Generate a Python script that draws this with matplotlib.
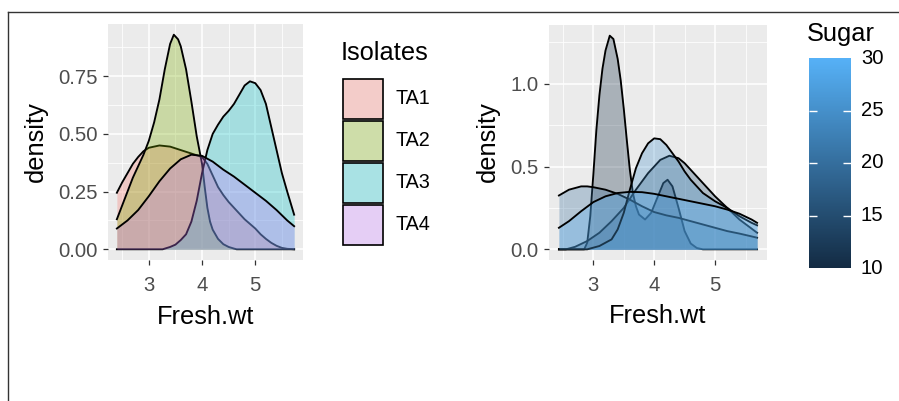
import matplotlib
matplotlib.use("Agg")
import matplotlib.pyplot as plt
import numpy as np
from matplotlib.colors import LinearSegmentedColormap, Normalize, to_rgba
from matplotlib.patches import Rectangle
from matplotlib.lines import Line2D
import matplotlib.colorbar as mcolorbar

plt.rcParams['font.family'] = ['Liberation Sans', 'DejaVu Sans']

# ---------------- data ----------------
isolates = ["TA1", "TA2", "TA3", "TA4"]
isolate_colors = ["#F8766D", "#7CAE00", "#00BFC4", "#C77CFF"]

ta1_x = [2.40, 2.5, 2.6, 2.7, 2.8, 2.9, 3.0, 3.2, 3.4, 3.6, 3.8, 4.0, 4.1, 4.2, 4.3, 4.4,
         4.5, 4.6, 4.7, 4.8, 4.9, 5.0, 5.1, 5.2, 5.3, 5.4, 5.5, 5.6, 5.73]
ta1_y = [0.245, 0.29, 0.33, 0.37, 0.40, 0.425, 0.44, 0.45, 0.445, 0.43, 0.415, 0.40, 0.37,
         0.32, 0.27, 0.235, 0.205, 0.18, 0.155, 0.13, 0.11, 0.09, 0.065, 0.045, 0.028, 0.015,
         0.006, 0.002, 0.0]

ta2_x = [2.4, 2.5, 2.6, 2.7, 2.8, 2.9, 3.0, 3.1, 3.2, 3.3, 3.4, 3.47, 3.55, 3.6, 3.7, 3.8,
         3.9, 4.0, 4.05, 4.1, 4.15, 4.2, 4.3, 4.4, 4.5, 4.6, 4.65, 5.73]
ta2_y = [0.13, 0.19, 0.25, 0.31, 0.36, 0.41, 0.47, 0.55, 0.65, 0.78, 0.89, 0.93, 0.91, 0.88,
         0.78, 0.64, 0.49, 0.37, 0.27, 0.18, 0.12, 0.085, 0.045, 0.022, 0.01, 0.003, 0.0, 0.0]

ta3_x = [2.4, 3.26, 3.4, 3.5, 3.6, 3.7, 3.8, 3.9, 4.0, 4.1, 4.2, 4.3, 4.4, 4.5, 4.6, 4.7,
         4.8, 4.9, 5.0, 5.1, 5.2, 5.3, 5.4, 5.5, 5.6, 5.73]
ta3_y = [0.0, 0.0, 0.01, 0.02, 0.04, 0.065, 0.12, 0.21, 0.33, 0.43, 0.50, 0.54, 0.575, 0.60,
         0.63, 0.67, 0.71, 0.728, 0.72, 0.69, 0.63, 0.53, 0.43, 0.33, 0.25, 0.15]

ta4_x = [2.4, 2.6, 2.8, 3.0, 3.2, 3.4, 3.6, 3.8, 4.0, 4.2, 4.4, 4.6, 4.8, 5.0, 5.2, 5.4, 5.6, 5.73]
ta4_y = [0.09, 0.125, 0.17, 0.23, 0.295, 0.35, 0.39, 0.41, 0.405, 0.38, 0.345, 0.315, 0.28,
         0.245, 0.21, 0.17, 0.125, 0.10]

# right panel: one density per Sugar level
sugar_levels = [10, 15, 20, 25, 30]

s10_x = [2.435, 2.85, 2.9, 2.95, 3.0, 3.05, 3.1, 3.15, 3.2, 3.27, 3.33, 3.4, 3.45, 3.5, 3.55,
         3.6, 3.65, 3.7, 3.75, 3.85, 3.95, 4.05, 4.15, 4.22, 4.3, 4.4, 4.5, 4.6, 4.7, 4.8, 5.69]
s10_y = [0.0, 0.0, 0.04, 0.2, 0.45, 0.72, 0.93, 1.09, 1.2, 1.29, 1.27, 1.15, 1.02, 0.85, 0.66,
         0.48, 0.34, 0.26, 0.21, 0.18, 0.22, 0.31, 0.40, 0.42, 0.38, 0.25, 0.11, 0.035, 0.008,
         0.0, 0.0]

s15_x = [2.435, 2.55, 2.7, 2.9, 3.1, 3.3, 3.5, 3.7, 3.9, 4.1, 4.25, 4.4, 4.5, 4.6, 4.8, 5.0,
         5.2, 5.4, 5.6, 5.69]
s15_y = [0.0, 0.0, 0.015, 0.05, 0.10, 0.17, 0.25, 0.36, 0.46, 0.54, 0.565, 0.55, 0.52, 0.48,
         0.40, 0.32, 0.25, 0.18, 0.125, 0.10]

s20_x = [2.435, 2.6, 2.8, 2.9, 3.0, 3.2, 3.4, 3.6, 3.8, 4.0, 4.2, 4.4, 4.6, 4.8, 5.0, 5.2,
         5.4, 5.6, 5.69]
s20_y = [0.325, 0.36, 0.38, 0.38, 0.375, 0.36, 0.335, 0.30, 0.26, 0.225, 0.205, 0.19, 0.17,
         0.15, 0.13, 0.11, 0.095, 0.078, 0.07]

s25_x = [2.435, 2.9, 3.1, 3.3, 3.4, 3.5, 3.6, 3.7, 3.8, 3.9, 4.0, 4.1, 4.2, 4.3, 4.4, 4.5,
         4.6, 4.8, 5.0, 5.2, 5.4, 5.6, 5.69]
s25_y = [0.0, 0.0, 0.02, 0.06, 0.12, 0.22, 0.36, 0.49, 0.58, 0.64, 0.67, 0.665, 0.63, 0.58,
         0.53, 0.47, 0.42, 0.34, 0.29, 0.25, 0.20, 0.16, 0.145]

s30_x = [2.435, 2.6, 2.8, 3.0, 3.2, 3.4, 3.6, 3.8, 4.0, 4.2, 4.4, 4.6, 4.8, 5.0, 5.2, 5.4,
         5.6, 5.69]
s30_y = [0.13, 0.17, 0.23, 0.285, 0.32, 0.34, 0.347, 0.345, 0.335, 0.32, 0.305, 0.29, 0.275,
         0.26, 0.24, 0.215, 0.18, 0.16]

left_ticks_x = [3, 4, 5]
left_ticks_y = [0.0, 0.25, 0.50, 0.75]
left_tick_labels_y = ["0.00", "0.25", "0.50", "0.75"]
right_ticks_y = [0.0, 0.5, 1.0]
right_tick_labels_y = ["0.0", "0.5", "1.0"]
sugar_ticks = [10, 15, 20, 25, 30]

# ---------------- layout ----------------
W, H = 899, 401
fig = plt.figure(figsize=(W / 100, H / 100), dpi=100)
fig.patch.set_facecolor("white")


def box(x0, y0, x1, y1):
    return [x0 / W, 1 - y1 / H, (x1 - x0) / W, (y1 - y0) / H]


TICK_FS = 14.6
TITLE_FS = 18.3
GREY30 = "#4D4D4D"


def style_panel(ax, xlim, ylim, yt, ytl, xminor, yminor):
    ax.set_facecolor("#EBEBEB")
    ax.set_xlim(xlim)
    ax.set_ylim(ylim)
    ax.set_xticks(left_ticks_x)
    ax.set_xticklabels([str(v) for v in left_ticks_x])
    ax.set_yticks(yt)
    ax.set_yticklabels(ytl)
    ax.set_xticks(xminor, minor=True)
    ax.set_yticks(yminor, minor=True)
    ax.grid(which="major", color="white", lw=1.1)
    ax.grid(which="minor", color="white", lw=0.55)
    ax.set_axisbelow(True)
    for s in ax.spines.values():
        s.set_visible(False)
    ax.tick_params(which="major", length=3.6, width=0.9, color="#333333",
                   labelcolor=GREY30, labelsize=TICK_FS)
    ax.tick_params(axis="y", pad=4)
    ax.tick_params(axis="x", pad=8)
    ax.tick_params(which="minor", length=0)


def draw_density(ax, xs, ys, col, i):
    ax.fill_between(xs, 0, ys, color=col, alpha=0.3, lw=0, zorder=2 + 2 * i)
    ax.plot(xs, ys, color="black", lw=1.35, zorder=3 + 2 * i, solid_joinstyle="round")


# left panel
ax1 = fig.add_axes(box(108, 24, 303, 260))
style_panel(ax1, (2.2335, 5.8965), (-0.0465, 0.9765), left_ticks_y, left_tick_labels_y,
            [2.5, 3.5, 4.5, 5.5], [0.125, 0.375, 0.625, 0.875])
left_series = [(ta1_x, ta1_y), (ta2_x, ta2_y), (ta3_x, ta3_y), (ta4_x, ta4_y)]
for i, ((xs, ys), col) in enumerate(zip(left_series, isolate_colors)):
    draw_density(ax1, xs, ys, col, i)

# right panel
cmap = LinearSegmentedColormap.from_list("ggblue", ["#132B43", "#56B1F7"])
norm = Normalize(vmin=10, vmax=30)
ax2 = fig.add_axes(box(549, 25, 767, 260))
style_panel(ax2, (2.272, 5.853), (-0.0645, 1.3545), right_ticks_y, right_tick_labels_y,
            [2.5, 3.5, 4.5, 5.5], [0.25, 0.75, 1.25])
right_series = [(s10_x, s10_y), (s15_x, s15_y), (s20_x, s20_y), (s25_x, s25_y), (s30_x, s30_y)]
for i, ((xs, ys), lev) in enumerate(zip(right_series, sugar_levels)):
    draw_density(ax2, xs, ys, cmap(norm(lev)), i)

# axis titles
fig.text(205.5 / W, 1 - 317 / H, "Fresh.wt", ha="center", va="center", fontsize=TITLE_FS)
fig.text(658 / W, 1 - 316 / H, "Fresh.wt", ha="center", va="center", fontsize=TITLE_FS)
fig.text(36 / W, 1 - 142 / H, "density", ha="center", va="center", rotation=90,
         fontsize=TITLE_FS)
fig.text(488 / W, 1 - 142 / H, "density", ha="center", va="center", rotation=90,
         fontsize=TITLE_FS)

# legend (Isolates)
fig.text(341 / W, 1 - 53 / H, "Isolates", ha="left", va="center", fontsize=TITLE_FS)
for i, (lab, col) in enumerate(zip(isolates, isolate_colors)):
    top = 78 + 42 * i
    x0, x1 = 342, 384
    fig.add_artist(Rectangle((x0 / W, 1 - (top + 42) / H), (x1 - x0) / W, 42 / H,
                             transform=fig.transFigure, facecolor="#F2F2F2", lw=0))
    fig.add_artist(Rectangle(((x0 + 1) / W, 1 - (top + 41) / H), (x1 - x0 - 2) / W, 40 / H,
                             transform=fig.transFigure, facecolor=to_rgba(col, 0.3),
                             edgecolor="black", lw=1.2))
    fig.text(396 / W, 1 - (top + 21) / H, lab, ha="left", va="center", fontsize=14.2)

# colourbar (Sugar)
cax = fig.add_axes(box(809, 58, 851, 268))
cb = mcolorbar.ColorbarBase(cax, cmap=cmap, norm=norm, orientation="vertical")
cb.outline.set_visible(False)
cax.set_yticks([])
cax.set_xticks([])
for v in sugar_ticks:
    if 10 < v < 30:
        cax.plot([0, 0.2], [v, v], color="white", lw=1.0, solid_capstyle="butt")
        cax.plot([0.8, 1.0], [v, v], color="white", lw=1.0, solid_capstyle="butt")
    fig.text(861 / W, 1 - (268 - (v - 10) * 10.5) / H, str(v), ha="left", va="center",
             fontsize=14.6)
cax.set_xlim(0, 1)
cax.set_ylim(10, 30)
fig.text(807 / W, 1 - 34 / H, "Sugar", ha="left", va="center", fontsize=TITLE_FS)

# outer frame lines
fig.add_artist(Line2D([8 / W, 1.0], [1 - 12 / H, 1 - 12 / H], transform=fig.transFigure,
                      color="#333333", lw=1.0))
fig.add_artist(Line2D([8 / W, 8 / W], [1 - 12 / H, 0.0], transform=fig.transFigure,
                      color="#333333", lw=1.0))

fig.savefig("out.png", dpi=100)
